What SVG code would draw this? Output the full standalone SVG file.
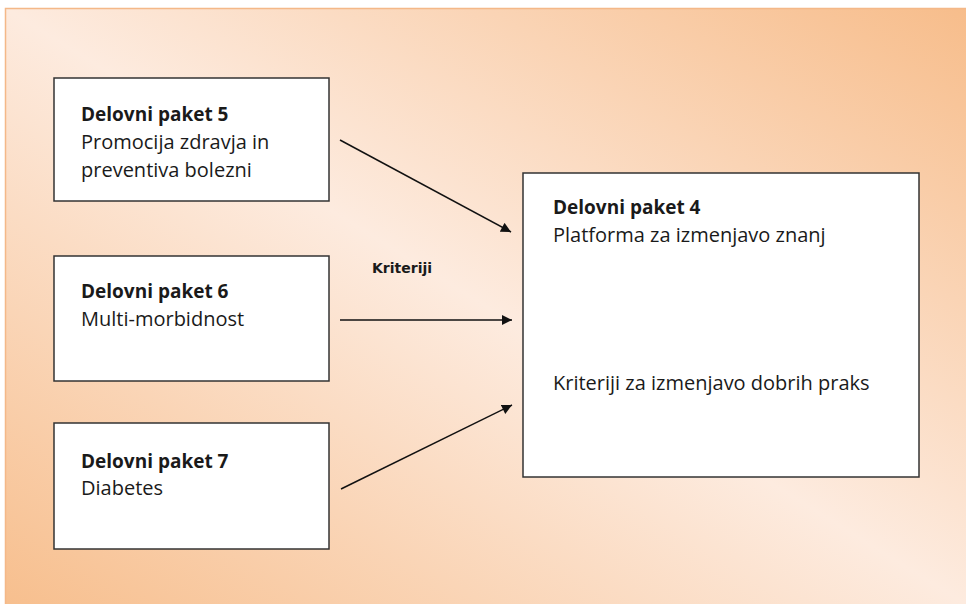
<svg xmlns="http://www.w3.org/2000/svg" width="966" height="606" viewBox="0 0 966 606">
  <defs>
    <linearGradient id="bg" x1="0" y1="1" x2="1" y2="0">
      <stop offset="0" stop-color="#f7bf8e"/>
      <stop offset="0.5" stop-color="#fdebdf"/>
      <stop offset="1" stop-color="#f7bd8b"/>
    </linearGradient>
    <marker id="arr" viewBox="0 0 10 10" refX="10" refY="5" markerWidth="11" markerHeight="10" markerUnits="userSpaceOnUse" orient="auto">
      <path d="M0,0 L10,5 L0,10 Z" fill="#111"/>
    </marker>
    <style>
      .box { fill: #fff; stroke: #333; stroke-width: 1.5; }
      .t { font-family: "Open Sans", "Liberation Sans", sans-serif; font-size: 20px; fill: #1a1a1a; }
      .b { font-weight: bold; font-size: 19px; }
      .lbl { font-family: "DejaVu Sans", sans-serif; font-size: 14px; font-weight: bold; fill: #1a1a1a; }
      .conn { stroke: #111; stroke-width: 1.5; fill: none; marker-end: url(#arr); }
    </style>
  </defs>
  <rect x="0" y="0" width="966" height="606" fill="#ffffff"/>
  <rect x="5" y="8" width="961" height="596" fill="url(#bg)"/>
  <path d="M5.5,604 V8.5 H966" fill="none" stroke="#f4b888" stroke-width="1.5"/>

  <g id="node-wp5">
    <rect class="box" x="54" y="78" width="275" height="123"/>
    <text class="t b" x="81" y="121">Delovni paket 5</text>
    <text class="t" x="81" y="149">Promocija zdravja in</text>
    <text class="t" x="81" y="177">preventiva bolezni</text>
  </g>
  <g id="node-wp6">
    <rect class="box" x="54" y="256" width="275" height="125"/>
    <text class="t b" x="81" y="298">Delovni paket 6</text>
    <text class="t" x="81" y="326">Multi-morbidnost</text>
  </g>
  <g id="node-wp7">
    <rect class="box" x="54" y="423" width="275" height="126"/>
    <text class="t b" x="81" y="468">Delovni paket 7</text>
    <text class="t" x="81" y="495">Diabetes</text>
  </g>
  <g id="node-wp4">
    <rect class="box" x="523" y="173" width="396" height="304"/>
    <text class="t b" x="553" y="214">Delovni paket 4</text>
    <text class="t" x="553" y="242">Platforma za izmenjavo znanj</text>
    <text class="t" x="553" y="390">Kriteriji za izmenjavo dobrih praks</text>
  </g>
  <g id="label-kriteriji">
    <text class="lbl" x="372" y="273">Kriteriji</text>
  </g>
  <g id="connectors">
    <line class="conn" x1="340" y1="140" x2="511" y2="232"/>
    <line class="conn" x1="340" y1="320" x2="512" y2="320"/>
    <line class="conn" x1="341" y1="489" x2="512" y2="405"/>
  </g>
</svg>
